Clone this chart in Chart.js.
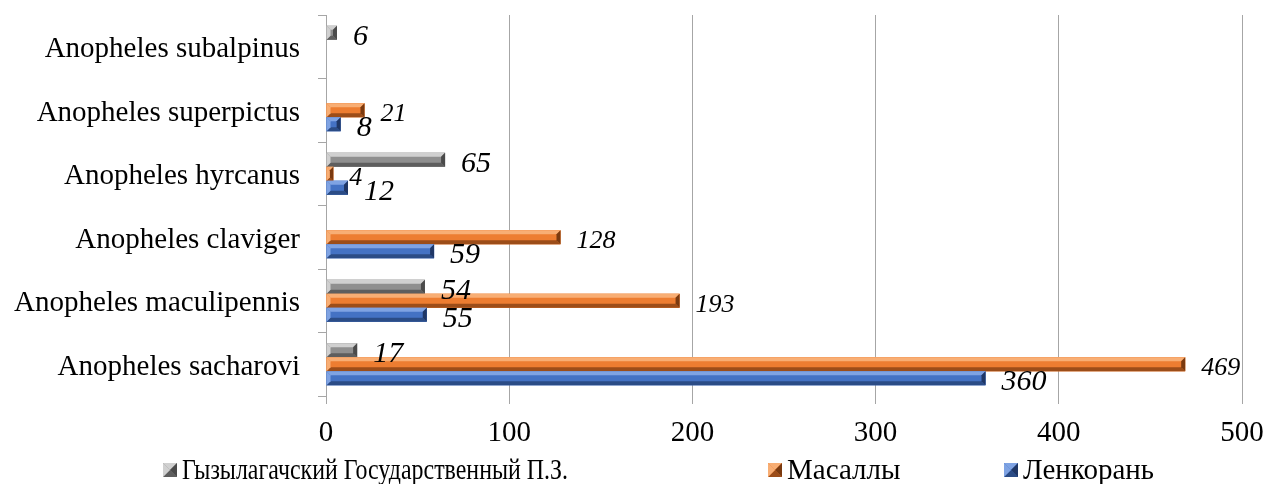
<!DOCTYPE html>
<html>
<head>
<meta charset="utf-8">
<script src="https://cdn.jsdelivr.net/npm/chart.js@4/dist/chart.umd.min.js"></script>
<style>
  html, body { margin: 0; padding: 0; background: #ffffff; }
  #wrap { width: 1266px; height: 484px; position: relative; }
</style>
</head>
<body>
<div id="wrap"><canvas id="c" width="1266" height="484"></canvas></div>
<script>
// Species, listed top to bottom
const species = [
  'Anopheles subalpinus',
  'Anopheles superpictus',
  'Anopheles hyrcanus',
  'Anopheles claviger',
  'Anopheles maculipennis',
  'Anopheles sacharovi'
];
const seriesNames = ['Гызылагачский Государственный П.З.', 'Масаллы', 'Ленкорань'];
const gyzylagach = [6, null, 65, null, 54, 17];
const masally    = [null, 21, 4, 128, 193, 469];
const lenkoran   = [null, 8, 12, 59, 55, 360];
const valueTicks = [0, 100, 200, 300, 400, 500];

const SERIF = "'Liberation Serif', 'Times New Roman', serif";

// Bevelled bar colours: face, upper/left edge, lower edge, end cap
const palettes = [
  { base: '#8f8f8f', light: '#d0d0d0', dark: '#5e5e5e', cap: '#4a4a4a' },
  { base: '#ed7d31', light: '#f8ae74', dark: '#9c4d19', cap: '#7a3a10' },
  { base: '#4472c4', light: '#7fa3e3', dark: '#2b4c86', cap: '#1f3766' }
];
const labelFonts = [
  'italic 30px ' + SERIF,
  'italic 26px ' + SERIF,
  'italic 30px ' + SERIF
];

function bevelRect(ctx, l, t, r, b, pal, size) {
  const w = r - l, h = b - t;
  if (w <= 0 || h <= 0) return;
  const s = Math.min(size, w / 2, h / 2);
  ctx.fillStyle = pal.base;
  ctx.fillRect(l, t, w, h);
  const poly = (pts, col) => {
    ctx.beginPath();
    ctx.moveTo(pts[0][0], pts[0][1]);
    for (let i = 1; i < pts.length; i++) ctx.lineTo(pts[i][0], pts[i][1]);
    ctx.closePath();
    ctx.fillStyle = col;
    ctx.fill();
  };
  poly([[l, t], [r, t], [r - s, t + s], [l + s, t + s]], pal.light);
  poly([[l, b], [r, b], [r - s, b - s], [l + s, b - s]], pal.dark);
  poly([[l, t], [l, b], [l + s, b - s], [l + s, t + s]], pal.light);
  poly([[r, t], [r, b], [r - s, b - s], [r - s, t + s]], pal.cap);
}

// Bars are painted by the library, then re-shaded with a bevel and labelled
const bevelAndLabels = {
  id: 'bevelAndLabels',
  afterDatasetsDraw(chart) {
    const ctx = chart.ctx;
    ctx.save();
    chart.data.datasets.forEach((ds, di) => {
      const meta = chart.getDatasetMeta(di);
      meta.data.forEach((el, i) => {
        const v = ds.data[i];
        if (v === null || v === undefined) return;
        const p = el.getProps(['x', 'y', 'base', 'height'], true);
        const l = Math.min(p.x, p.base), r = Math.max(p.x, p.base);
        const t = p.y - p.height / 2, b = p.y + p.height / 2;
        bevelRect(ctx, l, t, r, b, palettes[di], 4);
      });
    });
    chart.data.datasets.forEach((ds, di) => {
      const meta = chart.getDatasetMeta(di);
      meta.data.forEach((el, i) => {
        const v = ds.data[i];
        if (v === null || v === undefined) return;
        ctx.font = labelFonts[di];
        ctx.fillStyle = '#000000';
        ctx.textAlign = 'left';
        ctx.textBaseline = 'middle';
        ctx.fillText(String(v), el.x + 16, el.y + 4);
      });
    });
    ctx.restore();
  }
};

// Legend along the bottom edge; the long first entry is squeezed to fit its slot
const legendStarts = [163, 768, 1004];
const legendWidths = [386, null, null];
const bottomLegend = {
  id: 'bottomLegend',
  afterDraw(chart) {
    const ctx = chart.ctx;
    ctx.save();
    const cy = 470;
    seriesNames.forEach((name, i) => {
      const x = legendStarts[i];
      bevelRect(ctx, x, cy - 7, x + 14, cy + 7, palettes[i], 7);
      ctx.font = '29px ' + SERIF;
      ctx.fillStyle = '#000000';
      ctx.textAlign = 'left';
      ctx.textBaseline = 'middle';
      if (legendWidths[i]) ctx.fillText(name, x + 19, cy + 1, legendWidths[i]);
      else ctx.fillText(name, x + 19, cy + 1);
    });
    ctx.restore();
  }
};

const datasets = [gyzylagach, masally, lenkoran].map((values, i) => ({
  label: seriesNames[i],
  data: values,
  backgroundColor: palettes[i].base,
  borderWidth: 0,
  categoryPercentage: 0.66,
  barPercentage: 1.0
}));

new Chart(document.getElementById('c'), {
  type: 'bar',
  data: { labels: species, datasets },
  options: {
    indexAxis: 'y',
    responsive: false,
    animation: false,
    devicePixelRatio: 1,
    layout: { padding: { left: 0, right: 24, top: 15, bottom: 0 } },
    plugins: {
      legend: { display: false },
      tooltip: { enabled: false }
    },
    scales: {
      x: {
        min: valueTicks[0],
        max: valueTicks[valueTicks.length - 1],
        afterBuildTicks(scale) {
          scale.ticks = valueTicks.map(v => ({ value: v }));
        },
        afterFit(scale) {
          scale.height = 88;
          scale.paddingLeft = 0;
          scale.paddingRight = 0;
        },
        grid: { color: '#a6a6a6', lineWidth: 1, tickLength: 8, drawTicks: true },
        border: { display: false },
        ticks: { color: '#000000', padding: 12, font: { family: SERIF, size: 29 } }
      },
      y: {
        afterFit(scale) {
          scale.width = 326;
          scale.paddingTop = 0;
          scale.paddingBottom = 0;
        },
        grid: { color: '#a6a6a6', drawOnChartArea: false, tickLength: 8, offset: true },
        border: { display: true, color: '#a6a6a6' },
        ticks: { color: '#000000', padding: 18, labelOffset: 3, font: { family: SERIF, size: 29 } }
      }
    }
  },
  plugins: [bevelAndLabels, bottomLegend]
});
</script>
</body>
</html>
